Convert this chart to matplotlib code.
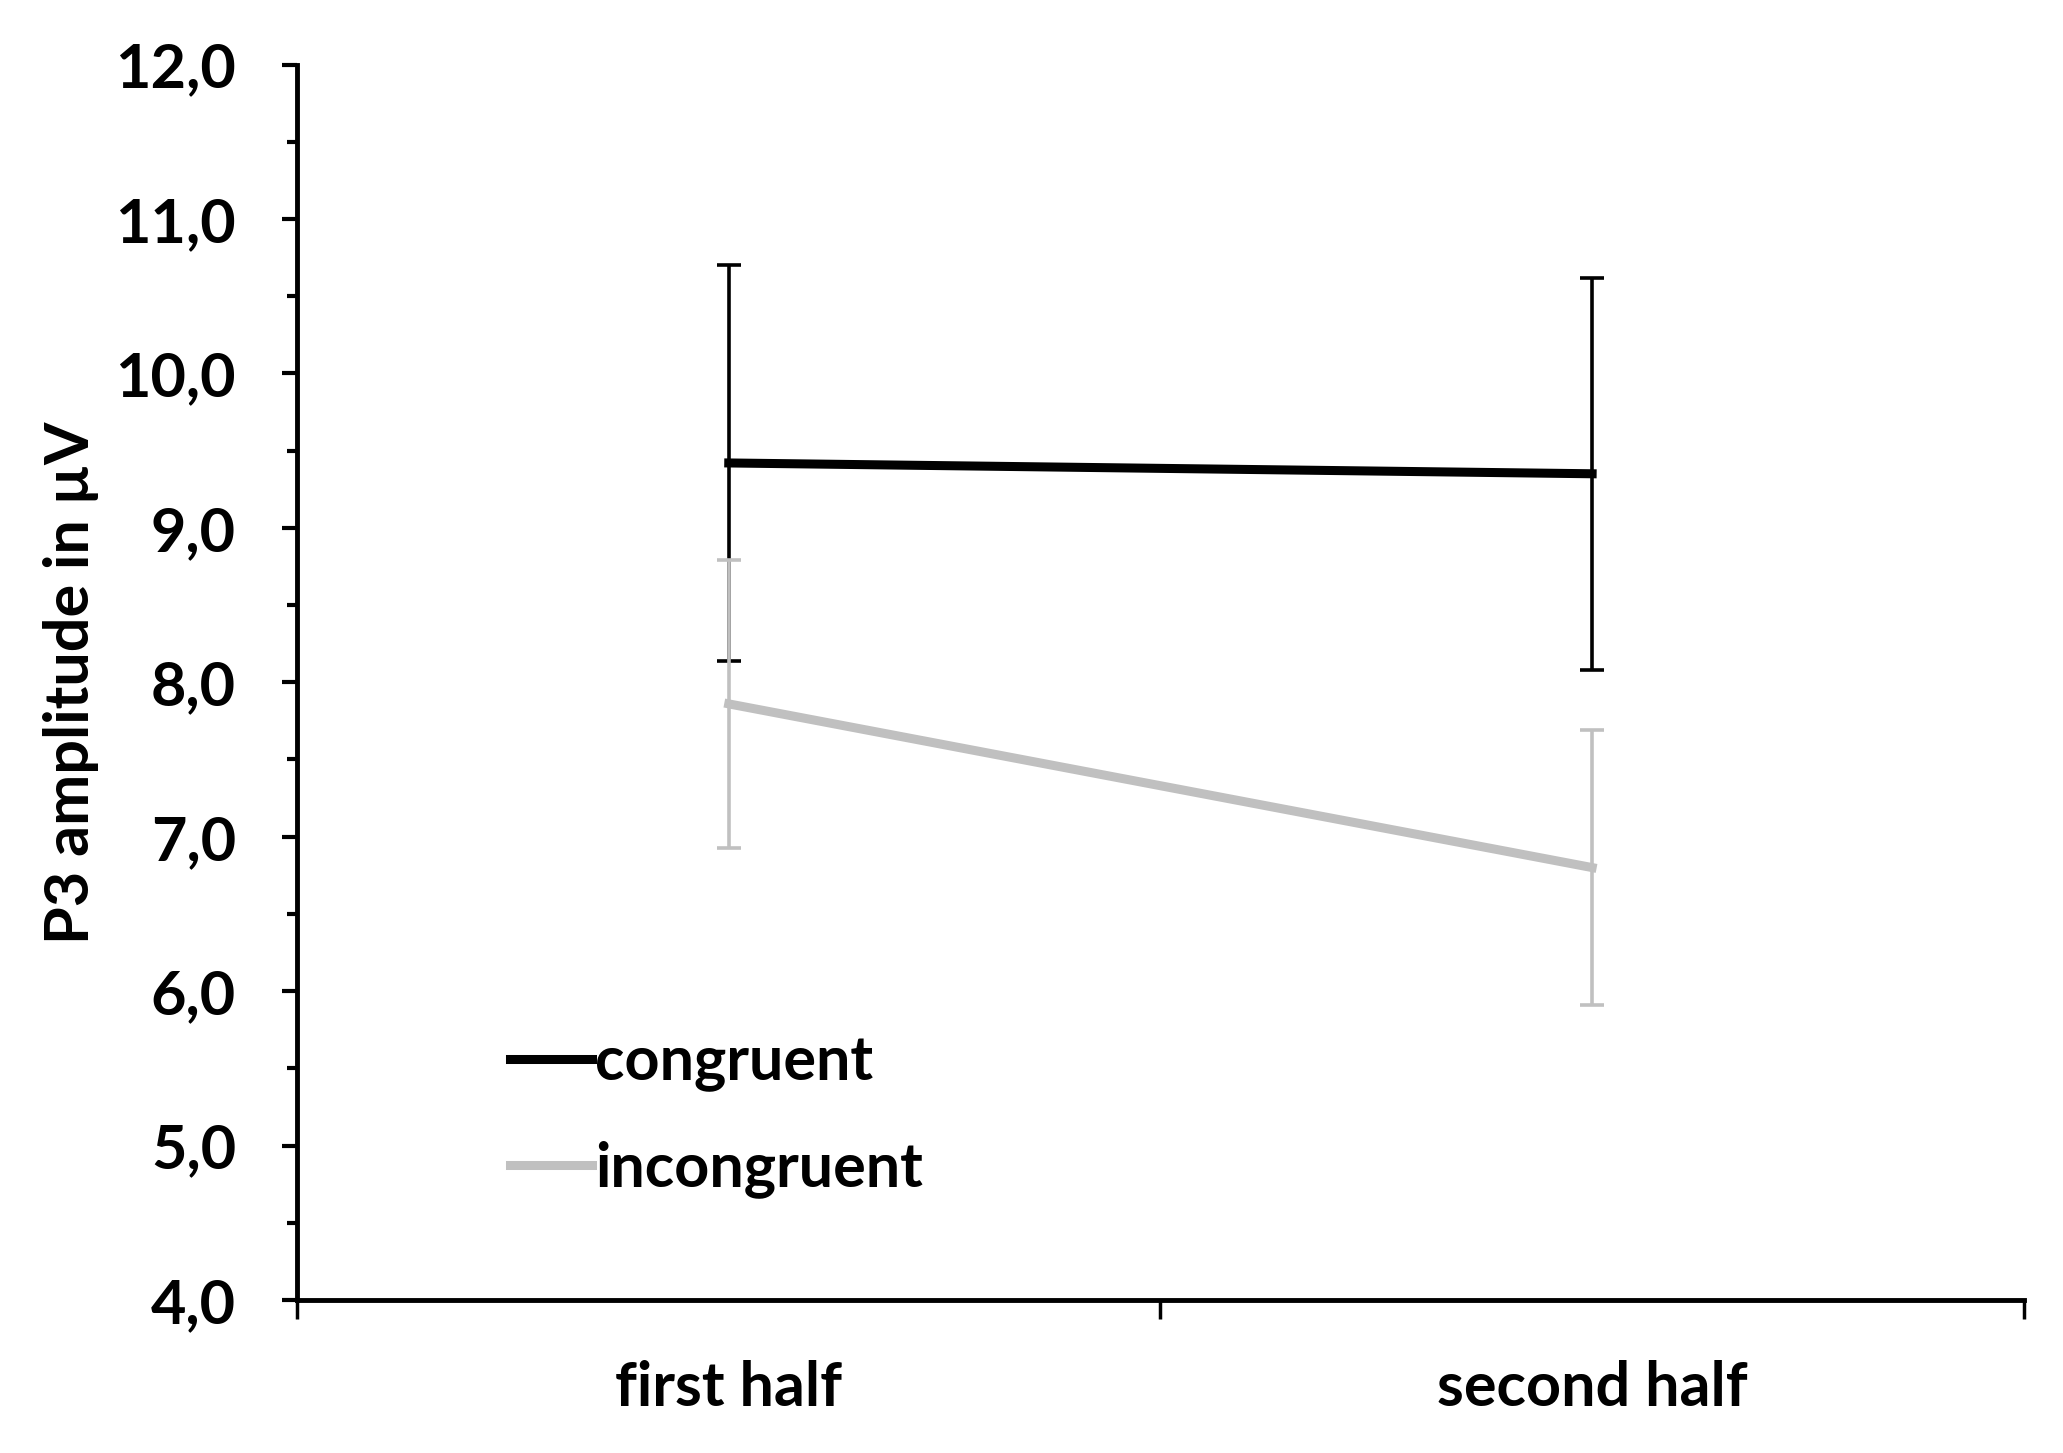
import matplotlib
matplotlib.use("Agg")
import matplotlib.pyplot as plt
from matplotlib.lines import Line2D
import numpy as np

categories = ["first half", "second half"]
congruent_mean = [9.42, 9.35]
congruent_err = [1.28, 1.27]
incongruent_mean = [7.86, 6.80]
incongruent_err = [0.93, 0.89]
yticks = [4.0, 5.0, 6.0, 7.0, 8.0, 9.0, 10.0, 11.0, 12.0]

plt.rcParams['font.family'] = ['Lato', 'DejaVu Sans']
plt.rcParams['font.weight'] = 'bold'

fig = plt.figure(figsize=(20.63, 14.53), dpi=100)
ax = fig.add_axes([0.144, 0.1053, 0.837, 0.8503])

x = np.arange(len(categories))
black = "#000000"
grey = "#c0c0c0"

ax.errorbar(x, congruent_mean, yerr=congruent_err, color=black, lw=6.5,
            elinewidth=2.6, capsize=8.5, capthick=2.6, zorder=3)
ax.errorbar(x, incongruent_mean, yerr=incongruent_err, color=grey, lw=6.5,
            elinewidth=2.6, capsize=8.5, capthick=2.6, zorder=4)

ax.set_xlim(-0.5, 1.5)
ax.set_ylim(4.0, 12.0)
ax.set_yticks(yticks)
ax.set_yticklabels([f"{v:.1f}".replace(".", ",") for v in yticks])
ax.set_yticks(np.arange(4.5, 12.0, 1.0), minor=True)
ax.set_xticks([-0.5, 0.5, 1.5])
ax.set_xticklabels([])
ax.set_xticks(x, minor=True)
ax.set_xticklabels(categories, minor=True)

for s in ["top", "right"]:
    ax.spines[s].set_visible(False)
for s in ["left", "bottom"]:
    ax.spines[s].set_linewidth(3.5)

ax.tick_params(axis="y", which="major", length=11, width=3, labelsize=44, pad=33)
ax.tick_params(axis="y", which="minor", length=7, width=3)
ax.tick_params(axis="x", which="major", length=14, width=2.5, direction="out")
ax.tick_params(axis="x", which="minor", length=0, labelsize=44, pad=43)
for lab in ax.get_yticklabels() + ax.get_xticklabels(minor=True):
    lab.set_fontweight("bold")

ax.set_ylabel("P3 amplitude in µV", fontsize=44, fontweight="bold", labelpad=12)

handles = [Line2D([], [], color=black, lw=6.5), Line2D([], [], color=grey, lw=6.5)]
leg = ax.legend(handles, ["congruent", "incongruent"], loc="lower left",
                bbox_to_anchor=(0.109, 0.063), frameon=False,
                fontsize=44, handlelength=1.35, handletextpad=0.05, labelspacing=0.78,
                borderaxespad=0)
for t in leg.get_texts():
    t.set_fontweight("bold")

fig.savefig("out.png", dpi=100, facecolor="white")
